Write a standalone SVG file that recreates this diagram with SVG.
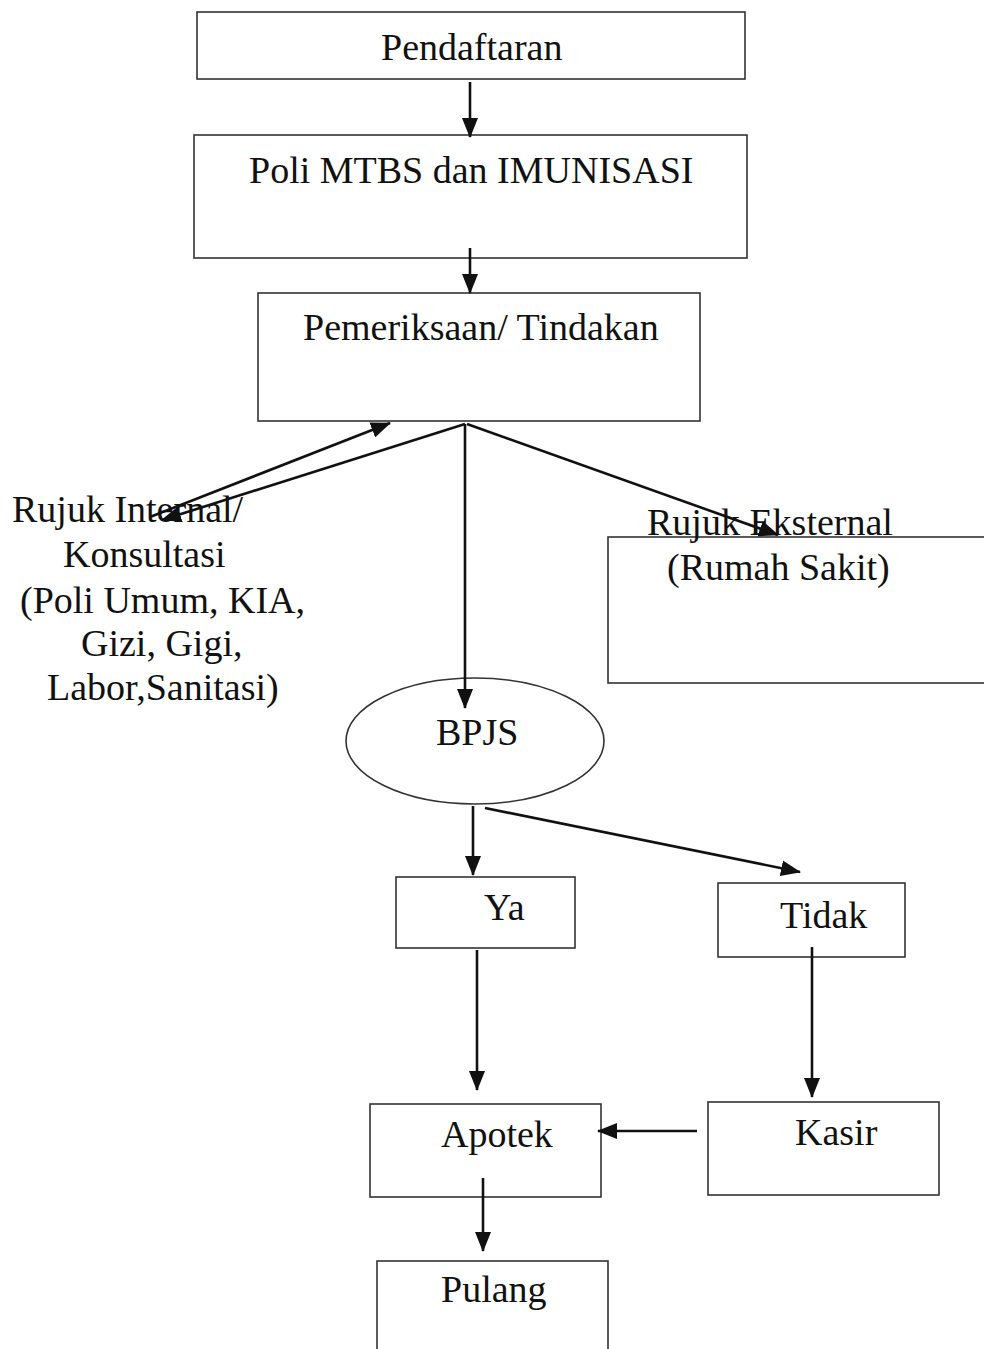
<svg xmlns="http://www.w3.org/2000/svg" width="984" height="1349" viewBox="0 0 984 1349">
<style>
.box{fill:#fff;stroke:#333;stroke-width:1.6}
.t{font-family:"Liberation Serif","Times New Roman",serif;font-size:38px;fill:#111}
.c{stroke:#111;stroke-width:2.6;fill:none;marker-end:url(#ah)}
</style>
<defs>
<marker id="ah" markerWidth="20" markerHeight="16" refX="19" refY="8" orient="auto" markerUnits="userSpaceOnUse">
<path d="M0,0 L20,8 L0,16 Z" fill="#111"/>
</marker>
</defs>
<rect width="984" height="1349" fill="#fff"/>
<g id="pendaftaran"><rect class="box" x="197" y="12" width="548" height="67"/><text class="t" x="381" y="60">Pendaftaran</text></g>
<g id="poli"><rect class="box" x="194" y="135" width="553" height="123"/><text class="t" x="249" y="183">Poli MTBS dan IMUNISASI</text></g>
<g id="pemeriksaan"><rect class="box" x="258" y="293" width="442" height="128"/><text class="t" x="303" y="340">Pemeriksaan/ Tindakan</text></g>
<g id="rujuk-internal">
<text class="t" x="12" y="522">Rujuk Internal/</text>
<text class="t" x="63" y="567">Konsultasi</text>
<text class="t" x="20" y="613">(Poli Umum, KIA,</text>
<text class="t" x="81" y="656">Gizi, Gigi,</text>
<text class="t" x="47" y="700">Labor,Sanitasi)</text>
</g>
<g id="rujuk-eksternal"><rect class="box" x="608" y="537" width="390" height="146"/><text class="t" x="647" y="535">Rujuk Eksternal</text><text class="t" x="667" y="580">(Rumah Sakit)</text></g>
<g id="bpjs"><ellipse class="box" cx="475" cy="741" rx="129" ry="63"/><text class="t" x="436" y="745">BPJS</text></g>
<g id="ya"><rect class="box" x="396" y="877" width="179" height="71"/><text class="t" x="484" y="920">Ya</text></g>
<g id="tidak"><rect class="box" x="718" y="883" width="187" height="74"/><text class="t" x="780" y="928">Tidak</text></g>
<g id="apotek"><rect class="box" x="370" y="1104" width="231" height="93"/><text class="t" x="441" y="1147">Apotek</text></g>
<g id="kasir"><rect class="box" x="708" y="1102" width="231" height="93"/><text class="t" x="795" y="1145">Kasir</text></g>
<g id="pulang"><rect class="box" x="377" y="1261" width="231" height="100"/><text class="t" x="441" y="1302">Pulang</text></g>
<g id="connectors">
<line class="c" x1="470" y1="82" x2="470" y2="137"/>
<line class="c" x1="470" y1="248" x2="470" y2="293"/>
<line class="c" x1="150" y1="517" x2="390" y2="423"/>
<line class="c" x1="465" y1="424" x2="162" y2="520"/>
<line class="c" x1="465" y1="424" x2="465" y2="708"/>
<line class="c" x1="467" y1="424" x2="778" y2="535"/>
<line class="c" x1="473" y1="806" x2="473" y2="875"/>
<line class="c" x1="485" y1="808" x2="800" y2="872"/>
<line class="c" x1="477" y1="950" x2="477" y2="1090"/>
<line class="c" x1="812" y1="947" x2="812" y2="1097"/>
<line class="c" x1="697" y1="1131" x2="598" y2="1131"/>
<line class="c" x1="483" y1="1178" x2="483" y2="1251"/>
</g>
</svg>
